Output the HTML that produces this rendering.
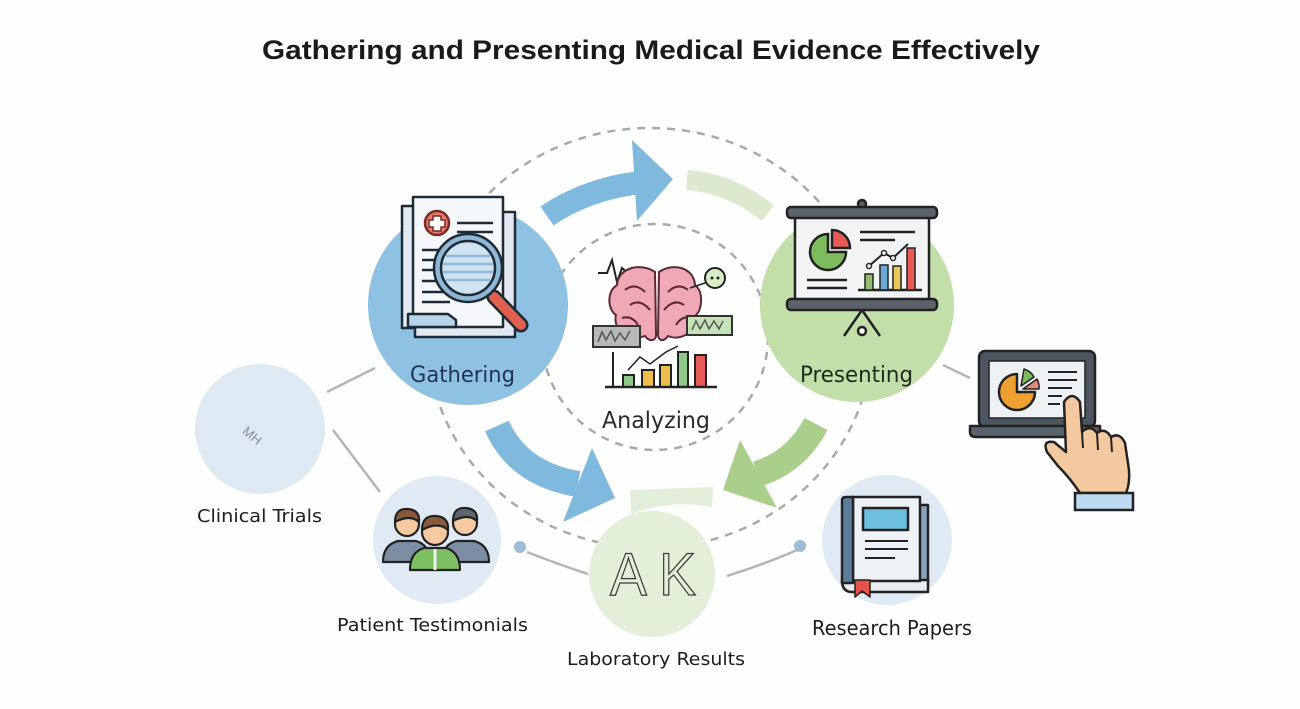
<!DOCTYPE html>
<html><head><meta charset="utf-8"><style>
html,body{margin:0;padding:0;background:#fff;}
svg{display:block;}
.lbl{font-family:"DejaVu Sans","Liberation Sans",sans-serif;fill:#1e1e1e;}
</style></head><body>
<svg width="1300" height="709" viewBox="0 0 1300 709" xmlns="http://www.w3.org/2000/svg">
<rect width="1300" height="709" fill="#fefefe"/>
<text x="262" y="59" font-family="Liberation Sans, sans-serif" font-weight="bold" font-size="27" fill="#1a1a1a" textLength="778" lengthAdjust="spacingAndGlyphs">Gathering and Presenting Medical Evidence Effectively</text>

<!-- dashed circles -->
<ellipse cx="650" cy="338" rx="222" ry="210" fill="none" stroke="#a9a9a9" stroke-width="2.5" stroke-dasharray="8 7"/>
<circle cx="655" cy="337" r="113" fill="none" stroke="#a9a9a9" stroke-width="2.5" stroke-dasharray="8 7"/>

<!-- connector lines -->
<line x1="327" y1="392" x2="375" y2="368" stroke="#b5b5b5" stroke-width="2.5"/>
<line x1="333" y1="430" x2="380" y2="492" stroke="#b5b5b5" stroke-width="2.5"/>
<line x1="943" y1="365" x2="970" y2="378" stroke="#b5b5b5" stroke-width="2.5"/>
<path d="M527 552 Q560 565 588 574" fill="none" stroke="#b5b5b5" stroke-width="2.5"/>
<path d="M727 576 Q765 564 797 550" fill="none" stroke="#b5b5b5" stroke-width="2.5"/>
<circle cx="520" cy="547" r="6" fill="#9dbcd5"/>
<circle cx="800" cy="546" r="6" fill="#9dbcd5"/>

<!-- side circles -->
<circle cx="260" cy="429" r="65" fill="#dde9f3"/>
<text x="252" y="440" font-family="Liberation Sans, sans-serif" font-size="13" fill="#8a8f96" text-anchor="middle" transform="rotate(40 252 436)">MH</text>
<circle cx="437" cy="540" r="64" fill="#dfeaf4"/>
<circle cx="887" cy="540" r="65" fill="#dfeaf4"/>

<!-- lab circle -->
<path d="M630 490 L713 487 L712 507 Q672 499 631 514 Z" fill="#e2eed9"/>
<circle cx="652" cy="574" r="63" fill="#e3efd9"/>
<text x="610" y="595" font-family="Liberation Sans, sans-serif" font-size="60" fill="none" stroke="#3a3a3a" stroke-width="1.3" textLength="86" lengthAdjust="spacingAndGlyphs">A K</text>

<!-- big circles -->
<circle cx="468" cy="305" r="100" fill="#8fc1e3"/>
<circle cx="857" cy="305" r="97" fill="#c3dfa9"/>

<!-- arrows -->
<path d="M547 216 Q585 190 636 183" fill="none" stroke="#7fb9dd" stroke-width="23"/>
<polygon points="632,140 673,179 637,221" fill="#7fb9dd"/>
<path d="M687 180 Q730 183 768 213" fill="none" stroke="#dde9cf" stroke-width="20"/>
<path d="M497 426 Q518 474 578 484" fill="none" stroke="#7fb9dd" stroke-width="26"/>
<polygon points="592,448 615,498 563,522" fill="#7fb9dd"/>
<path d="M816 424 Q796 462 757 474" fill="none" stroke="#a9cf8b" stroke-width="26"/>
<polygon points="740,440 723,490 777,508" fill="#a9cf8b"/>

<!-- Gathering icon -->
<g stroke="#1e2a36" stroke-width="2.5" stroke-linejoin="round">
<rect x="402" y="206" width="100" height="122" fill="#e3e9f0"/>
<rect x="415" y="212" width="100" height="125" fill="#e3e9f0"/>
<rect x="413" y="197" width="90" height="130" fill="#f5f7fa"/>
<path d="M408 327 L408 314 L448 314 L456 320 L456 327 Z" fill="#b7d5ea"/>
<circle cx="437" cy="223" r="12" fill="#e27c70" stroke="#7a2a24"/>
</g>
<path d="M433 216 h8 v4 h4 v7 h-4 v4 h-8 v-4 h-4 v-7 h4 Z" fill="#fff" stroke="#7a2a24" stroke-width="1.5"/>
<g stroke="#1e2a36" stroke-width="2.5">
<line x1="457" y1="223" x2="493" y2="223"/><line x1="457" y1="232" x2="493" y2="232"/>
<line x1="422" y1="250" x2="440" y2="250"/><line x1="422" y1="260" x2="440" y2="260"/>
<line x1="422" y1="270" x2="440" y2="270"/><line x1="422" y1="281" x2="440" y2="281"/>
<line x1="422" y1="292" x2="445" y2="292"/><line x1="422" y1="302" x2="450" y2="302"/>
</g>
<line x1="494" y1="297" x2="521" y2="325" stroke="#1e2a36" stroke-width="15" stroke-linecap="round"/>
<line x1="494" y1="297" x2="521" y2="325" stroke="#e0604f" stroke-width="10" stroke-linecap="round"/>
<circle cx="468" cy="268" r="34" fill="#8fb8d6" stroke="#1e2a36" stroke-width="2.5"/>
<circle cx="468" cy="268" r="27" fill="#cfe3f0" stroke="#1e2a36" stroke-width="2.5"/>
<g stroke="#8fb8d6" stroke-width="2.5">
<line x1="446" y1="256" x2="490" y2="256"/><line x1="443" y1="264" x2="493" y2="264"/>
<line x1="443" y1="272" x2="493" y2="272"/><line x1="446" y1="280" x2="490" y2="280"/>
</g>
<text class="lbl" x="410" y="382" font-size="22" fill="#1f3550" textLength="105" lengthAdjust="spacingAndGlyphs" style="fill:#1f3550">Gathering</text>

<!-- Presenting icon -->
<g stroke="#222" stroke-width="2.5">
<circle cx="862" cy="204" r="4" fill="#5a6068"/>
<rect x="795" y="217" width="134" height="83" fill="#f1f3f5"/>
<rect x="787" y="207" width="150" height="11" rx="4" fill="#5c636b"/>
<rect x="787" y="299" width="150" height="11" rx="4" fill="#5c636b"/>
<line x1="862" y1="310" x2="844" y2="336"/><line x1="862" y1="310" x2="880" y2="336"/>
<circle cx="862" cy="331" r="4" fill="#fff"/>
<path d="M828 252 L828 234 A18 18 0 1 0 846 252 Z" fill="#7dbb5c"/>
<path d="M832 248 L832 230 A18 18 0 0 1 850 248 Z" fill="#e85b55"/>
<line x1="807" y1="280" x2="847" y2="280"/><line x1="807" y1="288" x2="847" y2="288"/>
<line x1="860" y1="232" x2="915" y2="232"/><line x1="860" y1="240" x2="895" y2="240"/>
<line x1="858" y1="290" x2="922" y2="290"/>
<rect x="865" y="274" width="8" height="16" fill="#8fbf6a" stroke-width="1.5"/>
<rect x="880" y="265" width="8" height="25" fill="#6aa8d6" stroke-width="1.5"/>
<rect x="893" y="266" width="8" height="24" fill="#e8c85a" stroke-width="1.5"/>
<rect x="907" y="248" width="8" height="42" fill="#e85b55" stroke-width="1.5"/>
<polyline points="869,266 884,253 893,258 908,244" fill="none" stroke-width="2"/>
</g>
<circle cx="869" cy="266" r="2.5" fill="#fff" stroke="#222" stroke-width="1.5"/>
<circle cx="884" cy="253" r="2.5" fill="#fff" stroke="#222" stroke-width="1.5"/>
<circle cx="893" cy="258" r="2.5" fill="#fff" stroke="#222" stroke-width="1.5"/>
<text class="lbl" x="800" y="382" font-size="22" textLength="113" lengthAdjust="spacingAndGlyphs" style="fill:#1d2a1d">Presenting</text>

<!-- Analyzing icon -->
<polyline points="598,273 607,273 612,260 617,282 622,268 630,275 640,280" fill="none" stroke="#222" stroke-width="2"/>
<g stroke="#5a2a35" stroke-width="2">
<path d="M655 272 C640 262 618 268 617 285 C606 292 608 310 616 315 C612 330 630 342 645 336 C650 343 657 340 656 334 Z" fill="#f0a7b6"/>
<path d="M659 272 C674 262 694 268 695 285 C704 292 702 310 696 315 C698 330 682 342 668 336 C663 343 658 340 658 334 Z" fill="#f0a7b6"/>
<path d="M625 290 Q635 282 645 292 M630 305 Q640 298 650 310 M622 318 Q632 315 638 325" fill="none"/>
<path d="M688 290 Q678 282 668 292 M684 305 Q674 298 664 310 M692 318 Q682 315 676 325" fill="none"/>
</g>
<line x1="690" y1="288" x2="708" y2="282" stroke="#222" stroke-width="1.5"/>
<circle cx="715" cy="278" r="10" fill="#d8ecc6" stroke="#222" stroke-width="2"/>
<circle cx="712" cy="278" r="1.5" fill="#222"/><circle cx="718" cy="278" r="1.5" fill="#222"/>
<rect x="593" y="326" width="47" height="21" fill="#b9b9b9" stroke="#333" stroke-width="2"/>
<path d="M598 342 l4 -10 l4 8 l5 -9 l4 10 l5 -8 l5 7 l5 -9" fill="none" stroke="#555" stroke-width="1.5"/>
<rect x="687" y="316" width="45" height="19" fill="#c6e3b7" stroke="#333" stroke-width="2"/>
<path d="M692 330 l4 -9 l4 8 l5 -9 l4 9 l5 -8 l5 8 l4 -8" fill="none" stroke="#555" stroke-width="1.5"/>
<g stroke="#222" stroke-width="2">
<line x1="613" y1="352" x2="613" y2="387"/>
<rect x="623" y="375" width="11" height="12" fill="#8fc78a"/>
<rect x="642" y="370" width="12" height="17" fill="#efbd4a"/>
<rect x="660" y="365" width="11" height="22" fill="#efbd4a"/>
<rect x="678" y="352" width="10" height="35" fill="#8fc78a"/>
<rect x="695" y="355" width="11" height="32" fill="#e85b5b"/>
<line x1="605" y1="387" x2="717" y2="387" stroke-width="2.5"/>
<polyline points="628,370 640,357 650,364 666,352 678,346" fill="none" stroke-width="1.5"/>
</g>
<text x="602" y="428" font-family="DejaVu Sans, sans-serif" font-size="23" fill="#2a2a2a" textLength="108" lengthAdjust="spacingAndGlyphs">Analyzing</text>

<!-- Laptop + hand -->
<g stroke="#222" stroke-width="2.5" stroke-linejoin="round">
<rect x="979" y="351" width="116" height="76" rx="6" fill="#4c5560"/>
<rect x="989" y="361" width="96" height="57" fill="#eef1f4" stroke-width="1.5"/>
<path d="M970 426 L1100 426 L1100 432 Q1100 437 1094 437 L976 437 Q970 437 970 432 Z" fill="#5a626c"/>
<path d="M1017 392 L1017 374 A18 18 0 1 0 1035 392 Z" fill="#f0a030"/>
<path d="M1021 386 L1024 369 A17 17 0 0 1 1034 377 Z" fill="#7dbb5c" stroke-width="1.5"/>
<path d="M1023 389 L1037 379 A17 17 0 0 1 1039 389 Z" fill="#e88a7a" stroke-width="1.5"/>
</g>
<g stroke="#222" stroke-width="2">
<line x1="1048" y1="372" x2="1077" y2="372"/><line x1="1048" y1="380" x2="1077" y2="380"/>
<line x1="1048" y1="388" x2="1072" y2="388"/><line x1="1048" y1="396" x2="1062" y2="396"/>
<line x1="1048" y1="404" x2="1060" y2="404"/>
</g>
<path d="M1064 402 Q1072 390 1080 402 L1082 432 Q1090 424 1097 433 Q1105 427 1111 437 Q1120 432 1125 443 L1129 470 Q1130 484 1126 493 L1080 493 Q1070 478 1058 466 L1047 452 Q1042 440 1054 442 L1066 452 Z" fill="#f5c9a0" stroke="#222" stroke-width="2.5" stroke-linejoin="round"/>
<path d="M1082 432 L1083 448 M1097 433 L1098 450 M1111 437 L1112 452" fill="none" stroke="#222" stroke-width="2"/>
<rect x="1075" y="493" width="58" height="17" fill="#bcdaf0" stroke="#222" stroke-width="2.5"/>

<!-- Book -->
<g stroke="#222" stroke-width="2.5" stroke-linejoin="round">
<rect x="918" y="505" width="10" height="80" fill="#8aa3bb"/>
<path d="M842 580 Q842 592 852 592 L928 592 L928 580 Z" fill="#e9ecef"/>
<rect x="853" y="497" width="67" height="84" fill="#eef2f6"/>
<path d="M842 500 Q842 497 846 497 L853 497 L853 583 L842 583 Z" fill="#5c7d9c"/>
<rect x="863" y="508" width="45" height="22" fill="#6fc0e0"/>
<line x1="865" y1="541" x2="908" y2="541" stroke-width="2"/>
<line x1="865" y1="549" x2="908" y2="549" stroke-width="2"/>
<line x1="865" y1="558" x2="895" y2="558" stroke-width="2"/>
<path d="M855 580 L870 580 L870 597 L862 591 L855 597 Z" fill="#e8504a" stroke-width="1.5"/>
</g>

<!-- People -->
<g stroke="#222" stroke-width="2.2" stroke-linejoin="round">
<path d="M383 562 Q383 545 398 541 L416 541 Q430 545 430 562 Z" fill="#7b8ea3"/>
<circle cx="407" cy="524" r="12" fill="#f6c9a0"/>
<path d="M395 522 Q395 508 408 509 Q420 510 419 522 Q410 514 395 522 Z" fill="#8a5a3c"/>
<path d="M442 562 Q442 545 456 541 L474 541 Q489 545 489 562 Z" fill="#7b8ea3"/>
<circle cx="465" cy="523" r="12" fill="#f6c9a0"/>
<path d="M453 521 Q453 507 466 508 Q478 509 477 521 Q468 513 453 521 Z" fill="#5f6670"/>
<path d="M410 570 Q410 552 424 548 L446 548 Q460 552 460 570 Z" fill="#7cc063"/>
<line x1="435" y1="549" x2="435" y2="570" stroke="#eee" stroke-width="3"/>
<circle cx="435" cy="532" r="13" fill="#f6c9a0"/>
<path d="M422 530 Q422 515 436 516 Q449 517 448 530 Q438 521 422 530 Z" fill="#8a5a3c"/>
</g>

<!-- labels -->
<text class="lbl" x="197" y="522" font-size="18" textLength="125" lengthAdjust="spacingAndGlyphs">Clinical Trials</text>
<text class="lbl" x="337" y="631" font-size="18" textLength="191" lengthAdjust="spacingAndGlyphs">Patient Testimonials</text>
<text class="lbl" x="567" y="665" font-size="18" textLength="178" lengthAdjust="spacingAndGlyphs">Laboratory Results</text>
<text class="lbl" x="812" y="635" font-size="20" textLength="160" lengthAdjust="spacingAndGlyphs">Research Papers</text>
</svg>
</body></html>
